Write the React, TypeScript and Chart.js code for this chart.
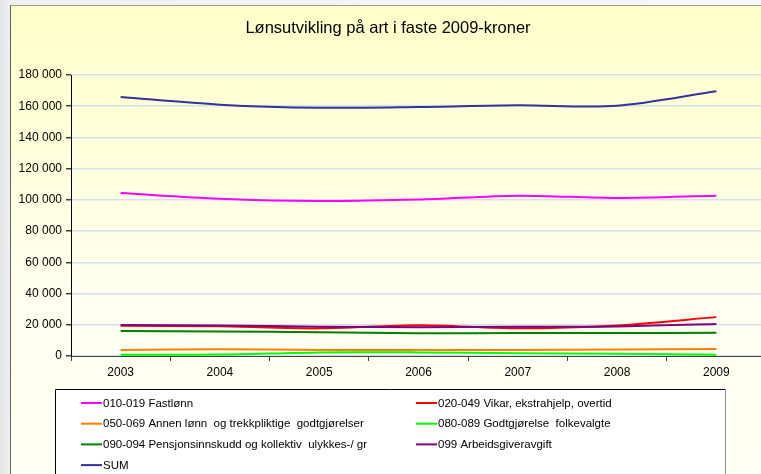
import React, { useEffect, useRef } from "react";
import { Chart, registerables } from "chart.js";

Chart.register(...registerables);

const years = ["2003", "2004", "2005", "2006", "2007", "2008", "2009"];

const fastlonn = [104400, 100800, 99300, 100200, 102700, 101200, 102700];
const vikar = [19300, 19000, 17700, 19700, 17800, 19600, 24900];
const annen = [3800, 4400, 3900, 3800, 3800, 4200, 4450];
const godtgjorelse = [850, 900, 2300, 2300, 1800, 1400, 850];
const pensjon = [16000, 15700, 15200, 14600, 14700, 14700, 14900];
const arbeidsgiver = [19900, 19500, 18800, 18400, 18700, 18900, 20500];
const sum = [165900, 161000, 159000, 159500, 160600, 160300, 169600];

const seriesLabels = [
  "010-019 Fastlønn",
  "020-049 Vikar, ekstrahjelp, overtid",
  "050-069 Annen lønn  og trekkpliktige  godtgjørelser",
  "080-089 Godtgjørelse  folkevalgte",
  "090-094 Pensjonsinnskudd og kollektiv  ulykkes-/ gr",
  "099 Arbeidsgiveravgift",
  "SUM",
];
const seriesValues = [fastlonn, vikar, annen, godtgjorelse, pensjon, arbeidsgiver, sum];
const seriesColors = ["#ff00ff", "#ff0000", "#ff8000", "#00ff00", "#008000", "#800080", "#333399"];

const yTicksMin = 0;
const yTicksMax = 180000;
const yStep = 20000;

const FONT = "'Liberation Sans', Arial, sans-serif";

const boxLegend = {
  id: "boxLegend",
  afterDraw(chart: any) {
    const ctx = chart.ctx;
    const left = 45.5;
    const top = 384.5;
    const right = 715.5;
    const bottom = 520;
    ctx.save();
    ctx.fillStyle = "#ffffff";
    ctx.fillRect(left, top, right - left, bottom - top);
    ctx.strokeStyle = "#000000";
    ctx.lineWidth = 1;
    ctx.beginPath();
    ctx.moveTo(left, bottom);
    ctx.lineTo(left, top);
    ctx.lineTo(right, top);
    ctx.stroke();
    ctx.strokeStyle = "#909090";
    ctx.beginPath();
    ctx.moveTo(right, top);
    ctx.lineTo(right, bottom);
    ctx.stroke();
    ctx.font = `11.5px ${FONT}`;
    ctx.textBaseline = "middle";
    ctx.textAlign = "left";
    chart.data.datasets.forEach((ds: any, i: number) => {
      const col = i % 2;
      const row = Math.floor(i / 2);
      const x = col === 0 ? 71 : 406;
      const y = 398 + row * 20.7;
      ctx.strokeStyle = ds.borderColor;
      ctx.lineWidth = 2;
      ctx.beginPath();
      ctx.moveTo(x, y);
      ctx.lineTo(x + 21, y);
      ctx.stroke();
      ctx.fillStyle = "#000000";
      ctx.fillText(ds.label, x + 22, y + 0.5);
    });
    ctx.restore();
  },
};

export default function App() {
  const ref = useRef<HTMLCanvasElement | null>(null);

  useEffect(() => {
    if (!ref.current) return;
    const n = seriesLabels.length;
    const chart = new Chart(ref.current, {
      type: "line",
      data: {
        labels: years,
        datasets: seriesLabels.map((label, i) => ({
          label,
          data: seriesValues[i],
          borderColor: seriesColors[i],
          backgroundColor: seriesColors[i],
          borderWidth: 2,
          pointRadius: 0,
          tension: 0.3,
          fill: false,
          order: n - i,
        })),
      },
      options: {
        responsive: false,
        animation: false,
        layout: { padding: { left: 0, right: 2, top: 0, bottom: 88 } },
        plugins: {
          legend: { display: false },
          tooltip: { enabled: false },
          title: {
            display: true,
            text: "Lønsutvikling på art i faste 2009-kroner",
            color: "#000000",
            font: { family: FONT, size: 16.5, weight: "normal" as any, lineHeight: 1.2 },
            padding: { top: 13.6, bottom: 36.6 },
          },
        },
        scales: {
          x: {
            offset: true,
            grid: {
              offset: true,
              drawOnChartArea: false,
              drawTicks: true,
              tickLength: 5,
              color: "#404040",
              tickColor: "#404040",
            },
            border: { display: true, color: "#404040", width: 1 },
            ticks: { color: "#000000", font: { family: FONT, size: 12 }, padding: 4, maxRotation: 0 },
            afterFit(scale: any) {
              scale.height = 30;
            },
          },
          y: {
            min: yTicksMin,
            max: yTicksMax,
            grid: {
              color: "#cfe2ee",
              lineWidth: 1.5,
              tickLength: 5,
              tickColor: "#404040",
            },
            border: { display: true, color: "#000000", width: 1 },
            ticks: {
              stepSize: yStep,
              color: "#000000",
              font: { family: FONT, size: 12 },
              padding: 4,
              callback: (v: any) => String(v).replace(/\B(?=(\d{3})+(?!\d))/g, " "),
            },
            afterFit(scale: any) {
              scale.width = 61;
            },
          },
        },
      },
      plugins: [boxLegend],
    });
    return () => chart.destroy();
  }, []);

  return (
    <div
      style={{
        position: "fixed",
        left: 0,
        top: 0,
        width: 761,
        height: 474,
        overflow: "hidden",
        background: "linear-gradient(to right, #e2e4e6 0px, #eef0f1 10px, #f6f7f8 100%)",
      }}
    >
      <div
        style={{
          position: "absolute",
          left: 10,
          top: 5,
          width: 758,
          height: 520,
          borderTop: "1px solid #a0a088",
          borderLeft: "1px solid #606060",
          background: "linear-gradient(to bottom, #ffffc9 0px, #fffff0 300px, #fffff4 100%)",
          boxSizing: "border-box",
        }}
      >
        <canvas ref={ref} width={758} height={469} style={{ position: "absolute", left: -1, top: -1 }} />
      </div>
    </div>
  );
}
